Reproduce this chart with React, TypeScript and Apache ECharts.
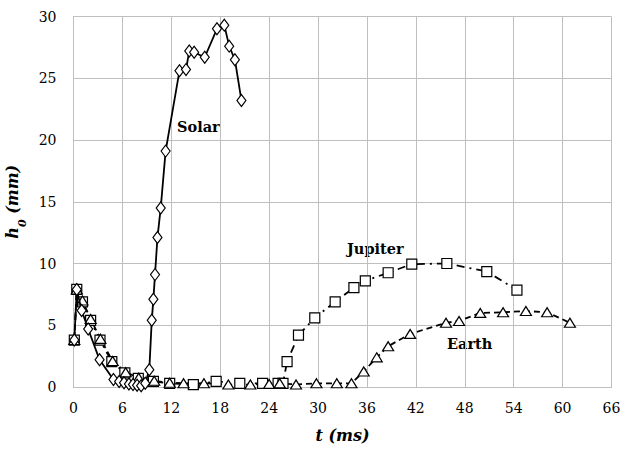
import React, { useEffect, useRef } from "react";
import * as echarts from "echarts";

const xTicks = [0, 6, 12, 18, 24, 30, 36, 42, 48, 54, 60, 66];
const yTicks = [0, 5, 10, 15, 20, 25, 30];

const solarT = [0.1, 0.4, 1.0, 1.8, 3.2, 4.9, 5.6, 6.2, 6.8, 7.3, 7.8, 8.3, 8.8, 9.3, 9.6, 9.8, 10.0, 10.3, 10.7, 11.3, 13.0, 13.8, 14.2, 14.8, 16.1, 17.6, 18.5, 19.1, 19.8, 20.6];
const solarH = [3.8, 7.9, 6.2, 4.7, 2.2, 0.6, 0.45, 0.35, 0.25, 0.2, 0.15, 0.1, 0.3, 1.4, 5.4, 7.1, 9.1, 12.1, 14.5, 19.1, 25.6, 25.7, 27.2, 27.1, 26.7, 29.0, 29.3, 27.6, 26.5, 23.2];

const jupiterT = [0.1, 0.4, 1.1, 2.1, 3.25, 4.7, 6.3, 7.95, 9.8, 11.8, 14.7, 17.5, 20.4, 23.2, 25.1, 25.7, 26.2, 27.6, 29.6, 32.1, 34.4, 35.8, 38.6, 41.5, 45.8, 50.7, 54.4];
const jupiterH = [3.8, 7.9, 6.9, 5.4, 3.8, 2.05, 1.15, 0.7, 0.45, 0.3, 0.2, 0.45, 0.3, 0.3, 0.3, 0.3, 2.05, 4.2, 5.6, 6.9, 8.05, 8.6, 9.25, 9.95, 10.0, 9.35, 7.85];

const earthT = [0.1, 0.4, 1.1, 2.1, 3.3, 4.8, 6.4, 8.0, 9.9, 11.8, 13.5, 16.0, 19.0, 21.7, 24.0, 25.3, 27.3, 29.8, 32.3, 34.1, 35.6, 37.2, 38.6, 41.3, 45.7, 47.3, 49.9, 52.7, 55.5, 58.1, 60.9];
const earthH = [3.8, 7.9, 7.0, 5.5, 3.9, 2.1, 1.2, 0.75, 0.5, 0.35, 0.3, 0.3, 0.2, 0.2, 0.25, 0.3, 0.2, 0.3, 0.3, 0.3, 1.25, 2.4, 3.3, 4.3, 5.2, 5.35, 6.0, 6.05, 6.15, 6.05, 5.2];

const seriesNames = ["Solar", "Jupiter", "Earth"];

const zip = (a: number[], b: number[]) => a.map((v, i) => [v, b[i]]);

export default function App() {
  const ref = useRef<HTMLDivElement>(null);
  useEffect(() => {
    if (!ref.current) return;
    const chart = echarts.init(ref.current, undefined, { renderer: "svg" });
    const font = "DejaVu Serif";
    const gridColor = "#bfbfbf";
    const label = (text: string, left: number, top: number) => ({
      type: "text",
      left,
      top,
      style: { text, fontFamily: font, fontSize: 14.5, fontWeight: "bold", fill: "#000" },
    });
    chart.setOption({
      animation: false,
      backgroundColor: "#ffffff",
      textStyle: { fontFamily: font },
      grid: { left: 73.5, right: 24.5, top: 16.5, bottom: 63, containLabel: false, outerBoundsMode: "none" },
      xAxis: {
        type: "value",
        min: xTicks[0],
        max: xTicks[xTicks.length - 1],
        interval: 6,
        axisLine: { show: true, lineStyle: { color: gridColor, width: 1 } },
        axisTick: { show: false },
        splitLine: { show: true, lineStyle: { color: gridColor, width: 1 } },
        axisLabel: { fontFamily: font, fontSize: 14, color: "#000", margin: 14 },
        name: "t (ms)",
        nameLocation: "middle",
        nameGap: 40,
        nameTextStyle: { fontFamily: font, fontSize: 16, fontWeight: "bold", fontStyle: "italic", color: "#000" },
      },
      yAxis: {
        type: "value",
        min: yTicks[0],
        max: yTicks[yTicks.length - 1],
        interval: 5,
        axisLine: { show: true, lineStyle: { color: gridColor, width: 1 } },
        axisTick: { show: false },
        splitLine: { show: true, lineStyle: { color: gridColor, width: 1 } },
        axisLabel: { fontFamily: font, fontSize: 14, color: "#000", margin: 17 },
        name: "{a|h}{s|0}{a| (mm)}",
        nameLocation: "middle",
        nameGap: 44,
        nameRotate: 90,
        nameTextStyle: {
          rich: {
            a: { fontFamily: font, fontSize: 16, fontWeight: "bold", fontStyle: "italic", color: "#000" },
            s: { fontFamily: font, fontSize: 11, fontWeight: "bold", fontStyle: "italic", color: "#000", verticalAlign: "bottom", padding: [0, 0, -7, 0] },
          },
        },
      },
      series: [
        {
          name: seriesNames[0],
          type: "line",
          data: zip(solarT, solarH),
          symbol: "diamond",
          symbolSize: [9, 12],
          showAllSymbol: true,
          lineStyle: { color: "#000", width: 1.8, type: "solid" },
          itemStyle: { color: "#fff", borderColor: "#000", borderWidth: 1.2 },
          z: 4,
        },
        {
          name: seriesNames[1],
          type: "line",
          data: zip(jupiterT, jupiterH),
          symbol: "rect",
          symbolSize: 10,
          showAllSymbol: true,
          lineStyle: { color: "#000", width: 1.8, type: [8, 5, 2, 5] },
          itemStyle: { color: "#fff", borderColor: "#000", borderWidth: 1.2 },
          z: 3,
        },
        {
          name: seriesNames[2],
          type: "line",
          data: zip(earthT, earthH),
          symbol: "triangle",
          symbolSize: [11, 9],
          showAllSymbol: true,
          lineStyle: { color: "#000", width: 1.8, type: [6, 4] },
          itemStyle: { color: "#fff", borderColor: "#000", borderWidth: 1.2 },
          z: 3,
        },
      ],
      graphic: [label(seriesNames[0], 177, 119), label(seriesNames[1], 347, 241), label(seriesNames[2], 447, 336)],
    });
    return () => chart.dispose();
  }, []);
  return <div ref={ref} style={{ width: 636, height: 450, position: "absolute", left: 0, top: 0 }} />;
}
